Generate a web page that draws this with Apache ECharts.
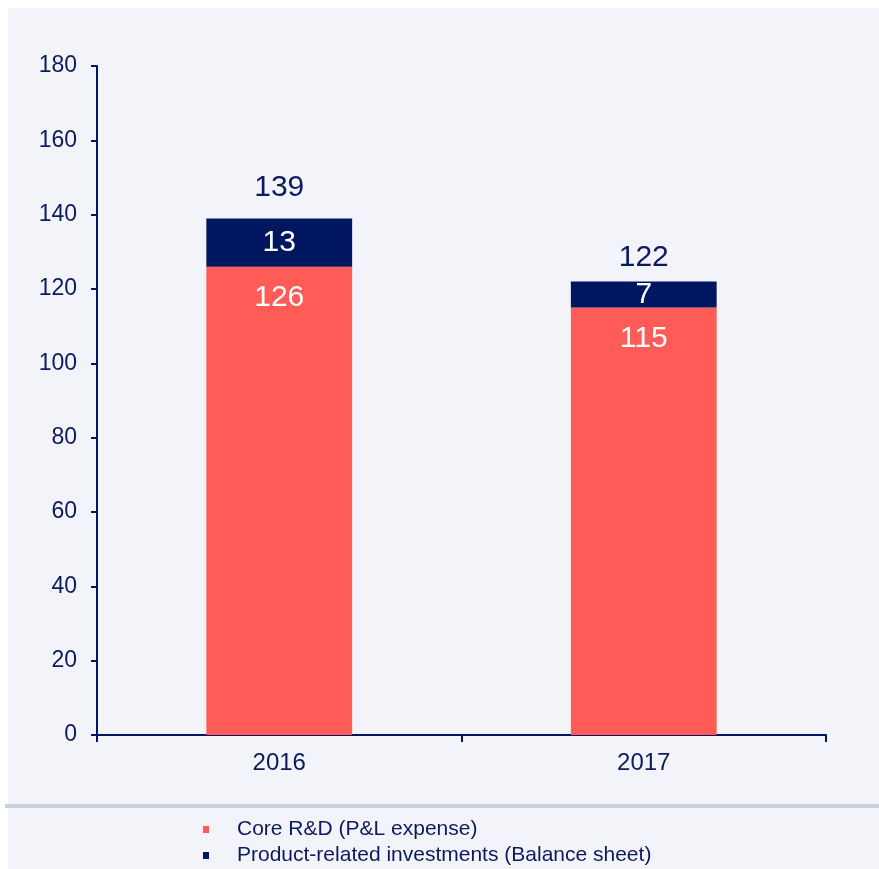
<!DOCTYPE html>
<html>
<head>
<meta charset="utf-8">
<script src="https://cdn.jsdelivr.net/npm/echarts@6/dist/echarts.min.js"></script>
<style>
  html, body { margin: 0; padding: 0; background: #fff; }
  #chart { width: 879px; height: 869px; }
</style>
</head>
<body>
<div id="chart"></div>
<script>
const years = ['2016', '2017'];
const coreRD = [126, 115];
const productInv = [13, 7];
const totals = [139, 122];

const navy = '#00175f';
const red = '#ff5b57';
const textNavy = '#0c1a5e';
const font = '"Liberation Sans", Arial, sans-serif';

const chart = echarts.init(document.getElementById('chart'));

const option = {
  backgroundColor: '#ffffff',
  animation: false,
  graphic: [
    {
      type: 'rect',
      z: -10,
      silent: true,
      shape: { x: 8, y: 8, width: 871, height: 861 },
      style: { fill: '#f3f4f9' }
    },
    {
      type: 'rect',
      z: -9,
      silent: true,
      shape: { x: 5, y: 804, width: 874, height: 4 },
      style: { fill: '#c8d1e2' }
    }
  ],
  grid: { left: 97, right: 53, top: 66, bottom: 134 },
  legend: {
    orient: 'vertical',
    left: 203,
    top: 819,
    padding: 0,
    itemWidth: 6,
    itemHeight: 7,
    itemGap: 5,
    icon: 'rect',
    data: ['Core R&D (P&L expense)', 'Product-related investments (Balance sheet)'],
    textStyle: { color: textNavy, fontSize: 21, fontFamily: font, padding: [0, 0, 0, 23] }
  },
  xAxis: {
    type: 'category',
    data: years,
    axisLine: { lineStyle: { color: navy, width: 2 } },
    axisTick: { show: true, length: 7, lineStyle: { color: navy, width: 2 } },
    axisLabel: { color: textNavy, fontSize: 24, fontFamily: font, margin: 16 }
  },
  yAxis: {
    type: 'value',
    min: 0,
    max: 180,
    interval: 20,
    splitLine: { show: false },
    axisLine: { show: true, lineStyle: { color: navy, width: 2 } },
    axisTick: { show: true, length: 6, lineStyle: { color: navy, width: 2 } },
    axisLabel: { color: textNavy, fontSize: 23, fontFamily: font, margin: 20 }
  },
  series: [
    {
      name: 'Core R&D (P&L expense)',
      type: 'bar',
      stack: 'rd',
      data: coreRD,
      barWidth: '40%',
      itemStyle: { color: red },
      label: {
        show: true,
        position: 'insideTop',
        distance: 16,
        color: '#ffffff',
        fontSize: 30,
        fontFamily: font
      }
    },
    {
      name: 'Product-related investments (Balance sheet)',
      type: 'bar',
      stack: 'rd',
      data: productInv,
      itemStyle: { color: navy },
      label: {
        show: true,
        position: 'inside',
        color: '#ffffff',
        fontSize: 30,
        fontFamily: font
      }
    },
    {
      name: 'total',
      type: 'bar',
      stack: 'rd',
      data: totals.map((t, i) => ({
        value: 0,
        label: { distance: i === 0 ? 16 : 9 }
      })),
      itemStyle: { color: 'transparent' },
      label: {
        show: true,
        position: 'top',
        color: textNavy,
        fontSize: 30,
        fontFamily: font,
        formatter: p => totals[p.dataIndex]
      }
    }
  ]
};

chart.setOption(option);
</script>
</body>
</html>
